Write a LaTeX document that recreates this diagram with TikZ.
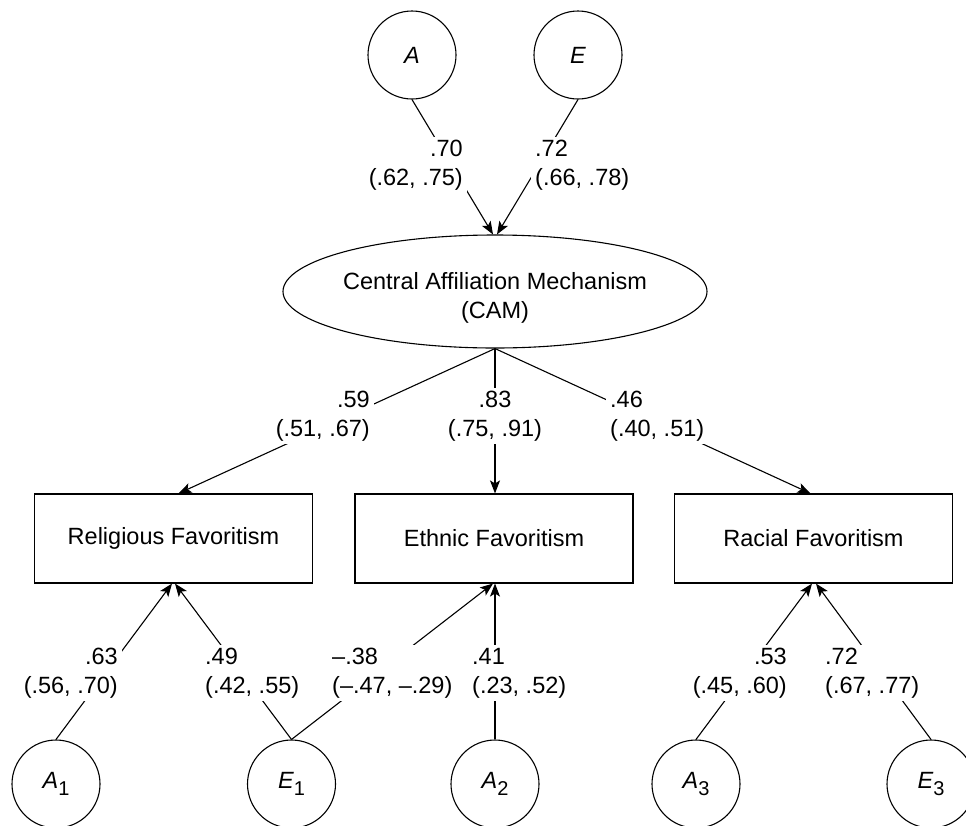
\documentclass[tikz,border=0pt]{standalone}
\usepackage{fontspec}
\setmainfont{Liberation Sans}
\usetikzlibrary{arrows.meta,shapes.geometric,calc}
\newcommand{\lsub}[2]{{\itshape #1}\raisebox{-7pt}{\fontsize{20}{20}\selectfont #2}}
\begin{document}
\begin{tikzpicture}[x=1pt,y=-1pt,
  font=\fontsize{23.5}{29}\selectfont,
  lat/.style={circle,draw,line width=1.1pt,minimum size=88pt,inner sep=0pt},
  obs/.style={rectangle,draw,line width=1.1pt,minimum width=278pt,minimum height=89pt,inner sep=0pt},
  lab/.style={fill=white,inner xsep=4pt,inner ysep=3pt,align=#1},
  conn/.style={line width=1.1pt},
  arr/.style={line width=1.1pt,-{Stealth[length=13pt,width=10pt,inset=3pt]}},
]
\useasboundingbox (0,0) rectangle (966,825);
\fill[white] (0,0) rectangle (966,825);
\clip (0,0) rectangle (966,825);

% latent variables
\node[lat] (A) at (412,55) {\itshape A};
\node[lat] (E) at (578,55) {\itshape E};
\node[ellipse,draw,line width=1.1pt,minimum width=424pt,minimum height=113pt,inner sep=0pt] (cam) at (495,291.5) {};
\node[align=center] (camtxt) at (495,298) {Central Affiliation Mechanism\\(CAM)};

% observed
\node[obs] (rel) at (173.5,538.5) {Religious Favoritism};
\node[obs] (eth) at (494,538.5) {Ethnic Favoritism};
\node[obs] (rac) at (813.5,538.5) {Racial Favoritism};

% bottom latent
\node[lat] (A1) at (56,784) {\lsub{A}{1}};
\node[lat] (E1) at (291.5,784) {\lsub{E}{1}};
\node[lat] (A2) at (495,784) {\lsub{A}{2}};
\node[lat] (A3) at (696,784) {\lsub{A}{3}};
\node[lat] (E3) at (931,784) {\lsub{E}{3}};

% connectors
\draw[arr] (A.south) -- ($(cam.north)+(-2,0)$);
\draw[arr] (E.south) -- ($(cam.north)+(2,0)$);
\draw[arr] (cam.south) -- ($(rel.north)+(5,0)$);
\draw[arr] (cam.south) -- ($(eth.north)+(1,0)$);
\draw[arr] (cam.south) -- ($(rac.north)+(-3,0)$);
\draw[arr] (A1.north) -- ($(rel.south)+(-1.5,0)$);
\draw[arr] (E1.north) -- ($(rel.south)+(1.5,0)$);
\draw[arr] (E1.north) -- ($(eth.south)+(-1,0)$);
\draw[arr] (A2.north) -- ($(eth.south)+(1,0)$);
\draw[arr] (A3.north) -- ($(rac.south)+(-1.5,0)$);
\draw[arr] (E3.north) -- ($(rac.south)+(2.5,0)$);

% coefficient labels
\node[lab=right,anchor=east] (lA) at (467,165) {.70\\(.62, .75)};
\node[lab=left,anchor=west] (lE) at (531,165) {.72\\(.66, .78)};
\node[lab=right,anchor=east] (lrel) at (374,416) {.59\\(.51, .67)};
\node[lab=center] (leth) at (495,416) {.83\\(.75, .91)};
\node[lab=left,anchor=west] (lrac) at (606,416) {.46\\(.40, .51)};
\node[lab=right,anchor=east] (lA1) at (122,673) {.63\\(.56, .70)};
\node[lab=left,anchor=west] (lE1a) at (201,673) {.49\\(.42, .55)};
\node[lab=left,anchor=west] (lE1b) at (328,673) {–.38\\(–.47, –.29)};
\node[lab=left,anchor=west] (lA2) at (468,673) {.41\\(.23, .52)};
\node[lab=right,anchor=east] (lA3) at (791,673) {.53\\(.45, .60)};
\node[lab=left,anchor=west] (lE3) at (821,673) {.72\\(.67, .77)};
\end{tikzpicture}
\end{document}
